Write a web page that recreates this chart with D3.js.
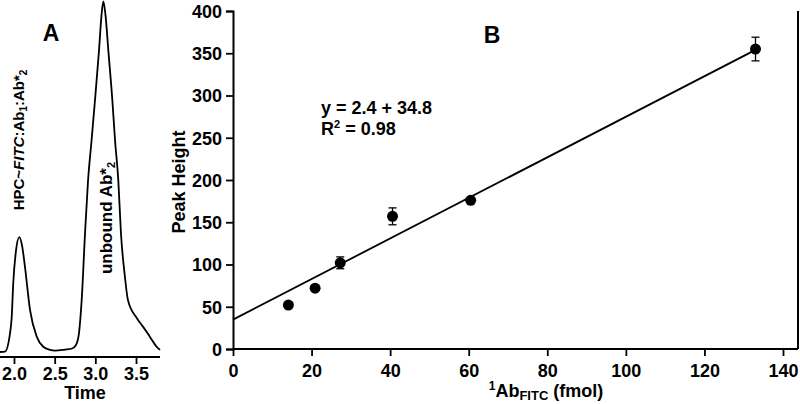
<!DOCTYPE html>
<html>
<head>
<meta charset="utf-8">
<script src="https://cdn.jsdelivr.net/npm/d3@7"></script>
<style>
  body { margin: 0; background: #fff; }
  svg { display: block; }
  text { font-family: "Liberation Sans", Arial, sans-serif; font-weight: bold; fill: #000; }
</style>
</head>
<body>
<div id="chart"></div>
<script>
// panel A: chromatogram trace (time, relative signal)
var traceTime = [1.828, 1.889, 1.951, 1.972, 1.991, 2.025, 2.065, 2.098, 2.135, 2.197, 2.279, 2.360,
                 2.443, 2.504, 2.627, 2.713, 2.762, 2.799, 2.832, 2.873, 2.910, 2.953, 2.996, 3.045,
                 3.076, 3.098, 3.125, 3.160, 3.209, 3.242, 3.282, 3.315, 3.364, 3.401, 3.509, 3.590,
                 3.672, 3.758, 3.795];
var traceSignal = [0, 0.1, 5.3, 10, 19.7, 29, 32.8, 30.5, 24.3, 12, 4.4, 1.5,
                   0.6, 0.4, 0.7, 1.0, 2.0, 5.4, 14.8, 33.7, 48.8, 60.2, 71.9, 86.0,
                   96.1, 100, 96.1, 86.0, 71.9, 60.5, 49.1, 33.9, 21.4, 14.8, 9.7, 7.1,
                   4.3, 1.4, 0.6];
var timeTicks = [2.0, 2.5, 3.0, 3.5];

// panel B: calibration points
var abAmount = [14.1, 20.9, 27.3, 40.6, 60.5, 133];
var peakHeight = [52, 72, 102, 157, 176, 355];
var peakError = [0, 0, 7, 10, 0, 14];
var fitSlope = 2.4, fitIntercept = 34.8;
var heightTicks = [0, 50, 100, 150, 200, 250, 300, 350, 400];
var amountTicks = [0, 20, 40, 60, 80, 100, 120, 140];

var svg = d3.select("#chart").append("svg")
    .attr("width", 800).attr("height", 404);

//----- panel A
var xA = d3.scaleLinear().domain([1.828, 3.795]).range([0, 160]);
var yA = d3.scaleLinear().domain([0, 100]).range([352, 1.5]);

var line = d3.line()
    .x(function(d, i) { return xA(traceTime[i]); })
    .y(function(d) { return yA(d); })
    .curve(d3.curveMonotoneX);

svg.append("path")
    .datum(traceSignal)
    .attr("d", line)
    .attr("fill", "none")
    .attr("stroke", "#000")
    .attr("stroke-width", 1.8);

var axA = svg.append("g").attr("transform", "translate(0,357)");
axA.call(d3.axisBottom(xA).tickValues(d3.range(1.9, 3.75, 0.1)).tickSize(4).tickFormat(""));
axA.call(d3.axisBottom(xA).tickValues(timeTicks).tickSize(7).tickPadding(3).tickFormat(d3.format(".1f")))
axA.selectAll(".domain").attr("stroke-width", 2).attr("d", "M0,0H160");
axA.selectAll(".tick line").attr("stroke-width", 1.8);
axA.selectAll(".tick text").attr("font-size", 18).attr("font-family", null);

svg.append("text").attr("x", 85).attr("y", 399).attr("text-anchor", "middle")
    .attr("font-size", 18).text("Time");
svg.append("text").attr("x", 51).attr("y", 41).attr("text-anchor", "middle")
    .attr("font-size", 23).text("A");

var lab1 = svg.append("text")
    .attr("transform", "translate(24,140) rotate(-90)")
    .attr("text-anchor", "middle").attr("font-size", 15);
lab1.append("tspan").text("HPC~");
lab1.append("tspan").attr("font-style", "italic").text("FITC");
lab1.append("tspan").text(":Ab");
lab1.append("tspan").attr("font-size", 10).attr("dy", 3).text("1");
lab1.append("tspan").attr("dy", -3).text(":Ab*");
lab1.append("tspan").attr("font-size", 10).attr("dy", 3).text("2");

var lab2 = svg.append("text")
    .attr("transform", "translate(112,218) rotate(-90)")
    .attr("text-anchor", "middle").attr("font-size", 17);
lab2.append("tspan").text("unbound Ab*");
lab2.append("tspan").attr("font-size", 11).attr("dy", 3).text("2");

//----- panel B
var x = d3.scaleLinear().domain([0, 140]).range([233, 783]);
var y = d3.scaleLinear().domain([0, 400]).range([349, 11]);

var gx = svg.append("g").attr("transform", "translate(0,349)")
    .call(d3.axisBottom(x).tickValues(amountTicks).tickSize(7).tickPadding(8));
gx.select(".domain").attr("d", "M233,0H798");
var gy = svg.append("g").attr("transform", "translate(233,0)")
    .call(d3.axisLeft(y).tickValues(heightTicks).tickSize(7).tickPadding(4));
[gx, gy].forEach(function(g) {
  g.selectAll(".domain").attr("stroke-width", 2);
  g.selectAll(".tick line").attr("stroke-width", 1.8);
  g.selectAll(".tick text").attr("font-size", 18).attr("font-family", null);
});
gy.selectAll(".tick text").attr("dy", "0.36em");

// right frame line
svg.append("line")
    .attr("x1", 798).attr("x2", 798).attr("y1", y(400)).attr("y2", y(0))
    .attr("stroke", "#000").attr("stroke-width", 2);

// fit line
svg.append("line")
    .attr("x1", x(0)).attr("y1", y(fitIntercept))
    .attr("x2", x(abAmount[5])).attr("y2", y(fitIntercept + fitSlope * abAmount[5]))
    .attr("stroke", "#000").attr("stroke-width", 1.8);

var pts = svg.append("g").selectAll("g").data(abAmount).enter().append("g");
pts.each(function(d, k) {
  var e = peakError[k];
  if (!e) return;
  var g = d3.select(this), cx = x(d);
  g.append("line").attr("x1", cx).attr("x2", cx)
    .attr("y1", y(peakHeight[k] - e)).attr("y2", y(peakHeight[k] + e));
  g.append("line").attr("x1", cx - 4).attr("x2", cx + 4)
    .attr("y1", y(peakHeight[k] - e)).attr("y2", y(peakHeight[k] - e));
  g.append("line").attr("x1", cx - 4).attr("x2", cx + 4)
    .attr("y1", y(peakHeight[k] + e)).attr("y2", y(peakHeight[k] + e));
  g.selectAll("line").attr("stroke", "#000").attr("stroke-width", 1.3);
});
pts.append("circle")
    .attr("cx", function(d) { return x(d); })
    .attr("cy", function(d, i) { return y(peakHeight[i]); })
    .attr("r", 5.5)
    .attr("fill", "#000");

svg.append("text").attr("x", 492).attr("y", 43).attr("text-anchor", "middle")
    .attr("font-size", 23).text("B");

svg.append("text").attr("x", 321).attr("y", 114).attr("font-size", 18)
    .text("y = " + fitSlope + " + " + fitIntercept);
var r2 = svg.append("text").attr("x", 321).attr("y", 135).attr("font-size", 18);
r2.append("tspan").text("R");
r2.append("tspan").attr("font-size", 11).attr("dy", -7).text("2");
r2.append("tspan").attr("dy", 7).text(" = 0.98");

svg.append("text")
    .attr("transform", "translate(185,182) rotate(-90)")
    .attr("text-anchor", "middle").attr("font-size", 18).text("Peak Height");

var xl = svg.append("text").attr("x", 546).attr("y", 397)
    .attr("text-anchor", "middle").attr("font-size", 18);
xl.append("tspan").attr("font-size", 12).attr("dy", -7).text("1");
xl.append("tspan").attr("dy", 7).text("Ab");
xl.append("tspan").attr("font-size", 13).attr("dy", 3).text("FITC");
xl.append("tspan").attr("dy", -3).text(" (fmol)");
</script>
</body>
</html>
